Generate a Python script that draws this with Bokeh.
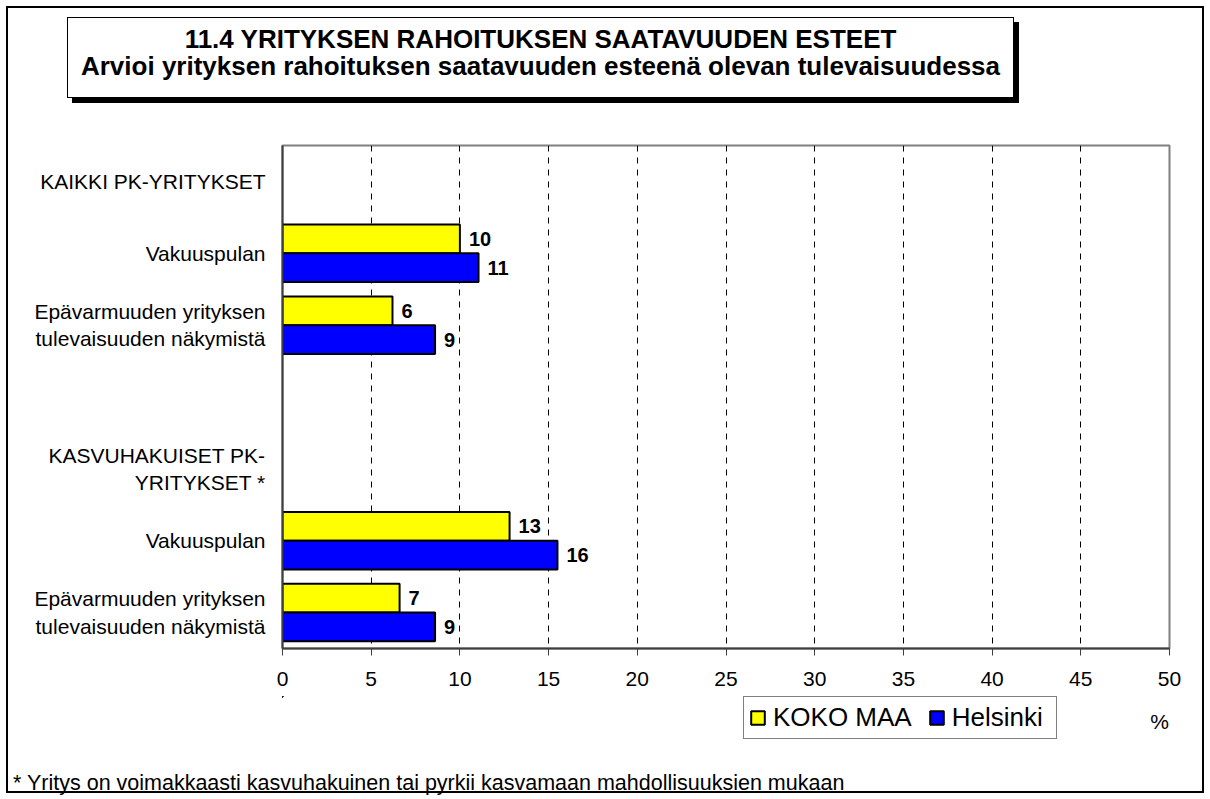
from bokeh.plotting import figure
from bokeh.layouts import column
from bokeh.models import (Range1d, FixedTicker, Legend, LegendItem, ColumnDataSource, Label, Div)
from bokeh.core.properties import value
from bokeh.embed import file_html
from bokeh.resources import INLINE

# ---- data ----
categories = [
    "KAIKKI PK-YRITYKSET",
    "Vakuuspulan",
    "Epävarmuuden yrityksen\ntulevaisuuden näkymistä",
    "",
    "KASVUHAKUISET PK-\nYRITYKSET *",
    "Vakuuspulan",
    "Epävarmuuden yrityksen\ntulevaisuuden näkymistä",
]
bar_rows = [2, 3, 6, 7]
koko_maa = [10.0, 6.2, 12.8, 6.6]
helsinki = [11.05, 8.6, 15.5, 8.6]
koko_maa_labels = ["10", "6", "13", "7"]
helsinki_labels = ["11", "9", "16", "9"]
x_ticks = [0, 5, 10, 15, 20, 25, 30, 35, 40, 45, 50]
series_names = ["KOKO MAA", "Helsinki"]
unit_label = "%"
title_lines = ["11.4 YRITYKSEN RAHOITUKSEN SAATAVUUDEN ESTEET",
               "Arvioi yrityksen rahoituksen saatavuuden esteenä olevan tulevaisuudessa"]
footnote = "* Yritys on voimakkaasti kasvuhakuinen tai pyrkii kasvamaan mahdollisuuksien mukaan"

FONT = "Liberation Sans"
YELLOW = "#FFFF00"
BLUE = "#0000FF"

W = 1210
LEFT, RIGHT = 282, 41   # frame borders (px)
TOP_H = 105             # title strip
MAIN_H = 591            # chart: 40 top + 503 frame + 48 axis
FOOT_H = 49             # footnote strip
LEG_H = 799 - TOP_H - MAIN_H - FOOT_H   # legend strip
LEG_TOP = TOP_H + MAIN_H                # page y of the legend strip

# ---- title box (HTML) ----
title_html = (
    '<div style="position:absolute;left:67px;top:17px;width:947px;height:81px;'
    'box-sizing:border-box;border:1px solid #000;background:#fff;box-shadow:5px 5px 0 #000;'
    "font-family:'Liberation Sans',Arial,sans-serif;font-weight:bold;font-size:26px;"
    'line-height:27px;text-align:center;padding-top:8px;color:#000;white-space:nowrap;">'
    + "<br>".join(title_lines) + "</div>"
)
title_div = Div(text=title_html, width=W, height=TOP_H, margin=0)

# ---- chart ----
p = figure(width=W, height=MAIN_H, x_range=Range1d(0, 50), y_range=Range1d(7.5, 0.5),
           output_backend="svg", toolbar_location=None,
           min_border_left=LEFT, min_border_right=RIGHT, min_border_top=40,
           min_border_bottom=MAIN_H - 40 - 503, margin=0)
p.background_fill_color = "white"
p.border_fill_alpha = 0
p.outline_line_color = "#808080"
p.outline_line_width = 2

bar_h = 0.4
src_k = ColumnDataSource(dict(y=[r - bar_h / 2 for r in bar_rows], x=koko_maa, lbl=koko_maa_labels))
src_h = ColumnDataSource(dict(y=[r + bar_h / 2 for r in bar_rows], x=helsinki, lbl=helsinki_labels))

bar_style_k = dict(fill_color=YELLOW, line_color="black", line_width=2)
bar_style_h = dict(fill_color=BLUE, line_color="black", line_width=2)
rk = p.hbar(y="y", right="x", left=0, height=bar_h, source=src_k, **bar_style_k)
rh = p.hbar(y="y", right="x", left=0, height=bar_h, source=src_h, **bar_style_h)

for src in (src_k, src_h):
    p.text(x="x", y="y", text="lbl", source=src, x_offset=9,
           text_align="left", text_baseline="middle",
           text_font=value(FONT), text_font_style="bold", text_font_size="20px",
           text_color="black")

# grid
p.ygrid.visible = False
p.xgrid.ticker = FixedTicker(ticks=x_ticks[1:-1])
p.xgrid.grid_line_color = "black"
p.xgrid.grid_line_dash = "6 6"
p.xgrid.grid_line_width = 1

# axes
p.xaxis.ticker = FixedTicker(ticks=x_ticks)
p.xaxis.minor_tick_line_color = None
p.xaxis.major_tick_in = 0
p.xaxis.major_tick_out = 7
p.xaxis.major_tick_line_color = "#404040"
p.xaxis.axis_line_color = "#404040"
p.xaxis.axis_line_width = 2
p.xaxis.major_label_standoff = 16
p.xaxis.major_label_text_font = FONT
p.xaxis.major_label_text_font_size = "21px"
p.xaxis.major_label_text_color = "black"

p.yaxis.ticker = FixedTicker(ticks=list(range(1, len(categories) + 1)))
p.yaxis.major_label_overrides = {i + 1: c for i, c in enumerate(categories)}
p.yaxis.minor_tick_line_color = None
p.yaxis.major_tick_in = 0
p.yaxis.major_tick_out = 0
p.yaxis.axis_line_color = "#404040"
p.yaxis.axis_line_width = 2
p.yaxis.major_label_standoff = 17
p.yaxis.major_label_text_font = FONT
p.yaxis.major_label_text_font_size = "21px"
p.yaxis.major_label_text_color = "black"

# ---- legend strip (page-pixel coordinates, y downward) ----
q = figure(width=W, height=LEG_H, x_range=Range1d(LEFT, W - RIGHT),
           y_range=Range1d(LEG_TOP + LEG_H, LEG_TOP),
           output_backend="svg", toolbar_location=None, x_axis_type=None, y_axis_type=None,
           min_border_left=LEFT, min_border_right=RIGHT, min_border_top=0, min_border_bottom=0,
           margin=0)
q.grid.visible = False
q.outline_line_color = None
q.background_fill_alpha = 0
q.border_fill_alpha = 0

# legend swatches: same sources and styles as the bars (their values lie outside this strip's range)
lk = q.hbar(y="y", right="x", left=0, height=bar_h, source=src_k, **bar_style_k)
lh = q.hbar(y="y", right="x", left=0, height=bar_h, source=src_h, **bar_style_h)
legend = Legend(items=[LegendItem(label=series_names[0], renderers=[lk]),
                       LegendItem(label=series_names[1], renderers=[lh])],
                orientation="horizontal", location=(743 - LEFT, LEG_H - 43))
legend.label_text_font = FONT
legend.label_text_font_size = "26px"
legend.label_text_color = "black"
legend.label_width = 99
legend.glyph_width = 17
legend.glyph_height = 17
legend.label_standoff = 7
legend.spacing = 16
legend.padding = 5
legend.margin = 0
legend.border_line_color = "black"
legend.border_line_width = 1
legend.background_fill_color = "white"
legend.background_fill_alpha = 1
q.add_layout(legend, "center")

q.add_layout(Label(x=1159, y=721, text=unit_label, text_align="center",
                   text_baseline="middle", text_font=FONT, text_font_size="21px",
                   text_color="black"))

# ---- footnote strip (HTML) ----
foot_html = (
    '<div style="position:absolute;left:13px;top:21px;white-space:nowrap;'
    "font-family:'Liberation Sans',Arial,sans-serif;font-size:21.5px;line-height:24px;color:#000;\">"
    + footnote + "</div>"
)
foot_div = Div(text=foot_html, width=W, height=FOOT_H, margin=0)

layout = column(title_div, p, q, foot_div, width=W, height=799, spacing=0,
                styles={"outline": "2px solid black", "outline-offset": "-8px"})

open("out.html", "w").write(file_html(layout, INLINE))
